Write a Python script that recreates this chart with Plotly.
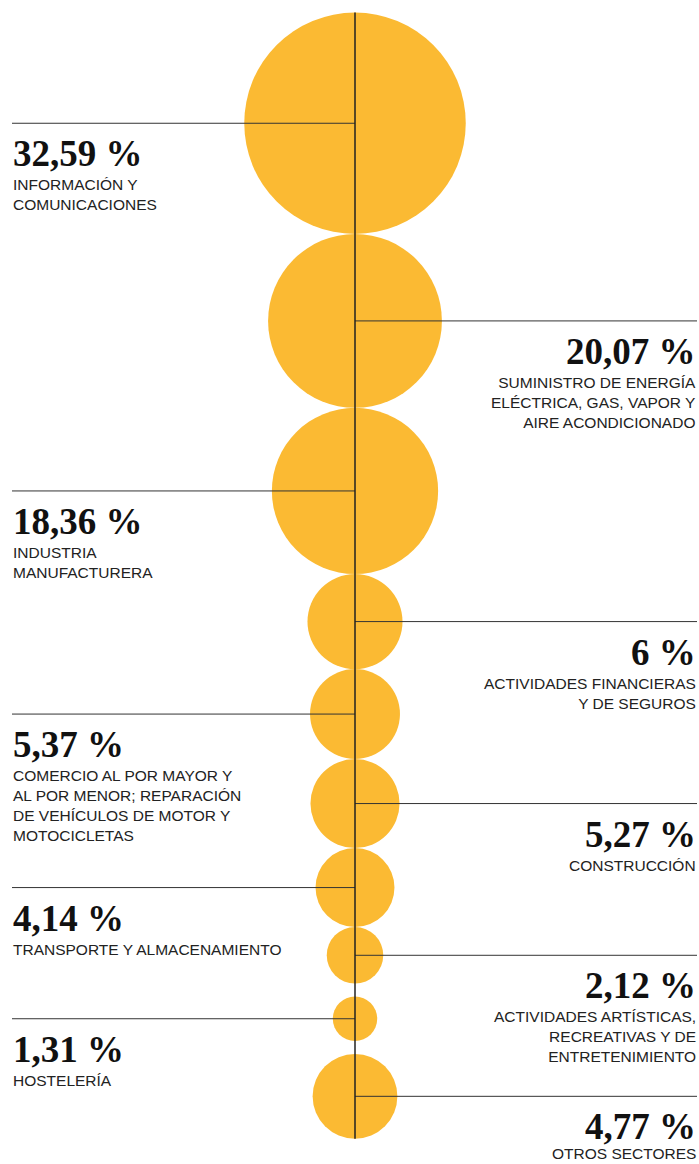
import numpy as np
import plotly.graph_objects as go

# ---- data ----
values = [32.59, 20.07, 18.36, 6, 5.37, 5.27, 4.14, 2.12, 1.31, 4.77]
pct_labels = ["32,59 %", "20,07 %", "18,36 %", "6 %", "5,37 %",
              "5,27 %", "4,14 %", "2,12 %", "1,31 %", "4,77 %"]
categories = [
    "INFORMACIÓN Y<br>COMUNICACIONES",
    "SUMINISTRO DE ENERGÍA<br>ELÉCTRICA, GAS, VAPOR Y<br>AIRE ACONDICIONADO",
    "INDUSTRIA<br>MANUFACTURERA",
    "ACTIVIDADES FINANCIERAS<br>Y DE SEGUROS",
    "COMERCIO AL POR MAYOR Y<br>AL POR MENOR; REPARACIÓN<br>DE VEHÍCULOS DE MOTOR Y<br>MOTOCICLETAS",
    "CONSTRUCCIÓN",
    "TRANSPORTE Y ALMACENAMIENTO",
    "ACTIVIDADES ARTÍSTICAS,<br>RECREATIVAS Y DE<br>ENTRETENIMIENTO",
    "HOSTELERÍA",
    "OTROS SECTORES",
]

# ---- layout parameters ----
W, H = 699, 1164
CX = 355
K = 19.4             # radius scale (px per sqrt(%))
TOP = 12.5
GAPS = [0, 0, 0, 0, 0, 0, 0, 13, 13]
LEFT_X, RIGHT_X = 12, 697
TEXT_L, TEXT_R = 10.5, 697.5
YELLOW = "#FBBA33"
CAT_SIZE = 15.5
LINE_H = CAT_SIZE * 1.3

radii = [K * np.sqrt(v) for v in values]
centers = []
y = TOP
for i, r in enumerate(radii):
    if i > 0:
        y += radii[i - 1] + GAPS[i - 1] + r
    else:
        y += r
    centers.append(y)

fig = go.Figure()
shapes = []
annotations = []
for i, (r, cy) in enumerate(zip(radii, centers)):
    shapes.append(dict(type="circle", xref="x", yref="y",
                       x0=CX - r, x1=CX + r, y0=cy - r, y1=cy + r,
                       fillcolor=YELLOW, line=dict(width=0), layer="below"))
    left = (i % 2 == 0)
    shapes.append(dict(type="line", xref="x", yref="y",
                       x0=LEFT_X if left else CX, x1=CX if left else RIGHT_X,
                       y0=cy, y1=cy, line=dict(color="#333333", width=1)))
    tx = TEXT_L if left else TEXT_R
    anchor = "left" if left else "right"
    annotations.append(dict(x=tx, y=cy + 8, xref="x", yref="y",
                            text="<b>" + pct_labels[i] + "</b>", showarrow=False,
                            xanchor=anchor, yanchor="top", align=anchor,
                            font=dict(family="Liberation Serif", size=37, color="#111111")))
    n_lines = categories[i].count("<br>") + 1
    top = cy + 51
    if top + n_lines * LINE_H + 2 > H:
        cat_y, cat_anchor = H - 0.5, "bottom"
    else:
        cat_y, cat_anchor = top, "top"
    annotations.append(dict(x=tx, y=cat_y, xref="x", yref="y",
                            text=categories[i], showarrow=False,
                            xanchor=anchor, yanchor=cat_anchor, align=anchor,
                            font=dict(family="Liberation Sans", size=CAT_SIZE, color="#222222")))

# vertical axis line through circles
shapes.append(dict(type="line", xref="x", yref="y",
                   x0=CX, x1=CX, y0=centers[0] - radii[0], y1=centers[-1] + radii[-1],
                   line=dict(color="#222222", width=1.5)))

# invisible trace to set up axes
fig.add_trace(go.Scatter(x=[CX] * len(values), y=centers, mode="markers",
                         marker=dict(size=1, opacity=0), hoverinfo="skip", showlegend=False))

fig.update_layout(
    width=W, height=H, margin=dict(l=0, r=0, t=0, b=0),
    paper_bgcolor="white", plot_bgcolor="white",
    shapes=shapes, annotations=annotations, showlegend=False,
    xaxis=dict(range=[0, W], visible=False, fixedrange=True),
    yaxis=dict(range=[H, 0], visible=False, fixedrange=True),
)
fig.write_html("out.html", config={"displayModeBar": False},
               post_script="document.body.style.margin='0px';document.body.style.overflow='hidden';")
